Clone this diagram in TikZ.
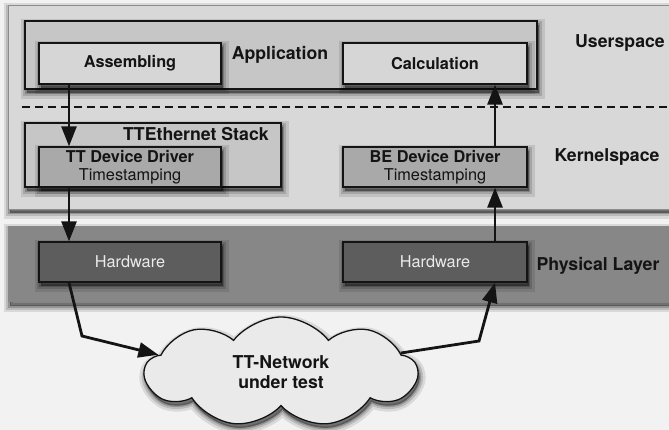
\documentclass[tikz,border=0pt]{standalone}
\usepackage{fontspec}
\setmainfont{TeX Gyre Heros}
\usetikzlibrary{arrows.meta,shapes.symbols}

\definecolor{pagebg}{HTML}{F2F2F2}
\definecolor{panelbg}{HTML}{D8D8D8}
\definecolor{appbg}{HTML}{C6C6C6}
\definecolor{leafbg}{HTML}{D6D6D6}
\definecolor{drvbg}{HTML}{A9A9A9}
\definecolor{physbg}{HTML}{878787}
\definecolor{hwbg}{HTML}{5D5D5D}
\definecolor{cloudbg}{HTML}{EAEAEA}
\definecolor{ink}{HTML}{141414}

\tikzset{
  % soft drop shadow built from a few widening, fading outlines
  softshadow/.style={
    preaction={fill=black, draw=black, opacity=0.10, line width=12pt,
      transform canvas={xshift=1.5pt, yshift=-4pt}},
    preaction={fill=black, draw=black, opacity=0.14, line width=7pt,
      transform canvas={xshift=1.5pt, yshift=-4pt}},
    preaction={fill=black, draw=black, opacity=0.20, line width=3pt,
      transform canvas={xshift=1.5pt, yshift=-4pt}}},
  panel/.style={rectangle, inner sep=0pt, draw=black!45, line width=0.6pt, softshadow},
  box/.style={rectangle, inner sep=0pt, draw=ink, line width=1.3pt, softshadow},
  biglabel/.style={font=\fontsize{17.7}{20}\selectfont\bfseries, text=ink},
  boxlabel/.style={font=\fontsize{16.3}{19}\selectfont\bfseries, text=ink},
  arr/.style={draw=ink, line width=2.8pt, -{Triangle[length=20pt,width=15pt]}},
}

\begin{document}
\begin{tikzpicture}[x=1pt,y=-1pt]
  \useasboundingbox (0,0) rectangle (669,430);
  \fill[pagebg] (0,0) rectangle (669,430);

  % vertical positions of the two signal paths
  \coordinate (lx) at (69,0);
  \coordinate (rx) at (495,0);

  % user/kernel panel and physical layer band
  \node[panel, fill=panelbg, minimum width=672, minimum height=204] (upper) at (344,107) {};
  \node[panel, fill=physbg, draw=none, minimum width=672, minimum height=76] (phys) at (344,264) {};

  % userspace: application
  \node[box, fill=appbg, minimum width=512, minimum height=68] (app) at (281,55) {};
  \node[box, fill=leafbg, minimum width=182, minimum height=41, boxlabel] (asm) at (130,63.5) {Assembling};
  \node[box, fill=leafbg, minimum width=184, minimum height=41, boxlabel] (calc) at (435,63.5) {Calculation};
  \node[biglabel] (applbl) at (280,55) {Application};

  % user/kernel boundary
  \coordinate (dashL) at (22,107);
  \coordinate (dashR) at (669,107);
  \draw[ink, line width=1.3pt, dash pattern=on 8pt off 5pt] (dashL) -- (dashR);

  % kernelspace: TTEthernet stack and device drivers
  \node[box, fill=appbg, minimum width=256, minimum height=64] (stack) at (153,155) {};
  \node[biglabel] (stacklbl) at (196,134) {TTEthernet Stack};
  \node[box, fill=drvbg, minimum width=182, minimum height=40, align=center,
        font=\fontsize{16.3}{19}\selectfont, text=ink] (ttdd) at (130,167)
        {\textbf{TT Device Driver}\\[-1pt]Timestamping};
  \node[box, fill=drvbg, minimum width=184, minimum height=40, align=center,
        font=\fontsize{16.3}{19}\selectfont, text=ink] (bedd) at (435,167)
        {\textbf{BE Device Driver}\\[-1pt]Timestamping};

  % physical layer: hardware
  \node[box, fill=hwbg, minimum width=182, minimum height=40,
        font=\fontsize{16.3}{19}\selectfont, text=white!92!black] (hw1) at (130,262) {Hardware};
  \node[box, fill=hwbg, minimum width=184, minimum height=40,
        font=\fontsize{16.3}{19}\selectfont, text=white!92!black] (hw2) at (435,262) {Hardware};

  % layer labels
  \node[biglabel] (userlbl) at (620,43) {Userspace};
  \node[biglabel] (kernlbl) at (607,157) {Kernelspace};
  \node[biglabel] (physlbl) at (598,266) {Physical Layer};

  % network cloud
  \node[cloud, cloud puffs=9, cloud puff arc=105, aspect=2.4, inner sep=0pt,
        minimum width=272, minimum height=110, draw=ink, line width=1.3pt,
        fill=cloudbg, softshadow, align=center, biglabel] (net) at (281,372)
        {TT-Network\\under test};

  % transmit path
  \coordinate (bendL) at (82,336);
  \draw[arr] (asm.south -| lx) -- (ttdd.north -| lx);
  \draw[arr] (ttdd.south -| lx) -- (hw1.north -| lx);
  \draw[arr] (hw1.south -| lx) -- (bendL) -- (net.172);

  % receive path
  \coordinate (bendR) at (479,341);
  \draw[arr] (net.9) -- (bendR) -- (hw2.south -| rx);
  \draw[arr] (hw2.north -| rx) -- (bedd.south -| rx);
  \draw[arr] (bedd.north -| rx) -- (calc.south -| rx);
\end{tikzpicture}
\end{document}
